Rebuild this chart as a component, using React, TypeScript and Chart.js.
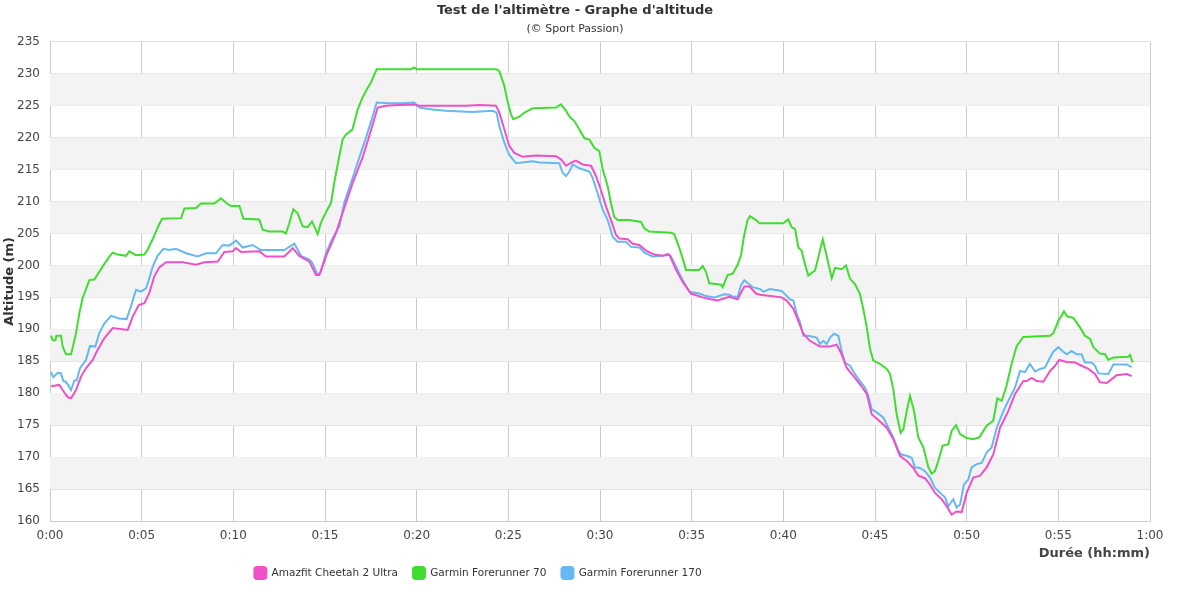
import { useEffect, useRef } from 'react'
import { Chart, registerables } from 'chart.js'
import type { Plugin } from 'chart.js'

Chart.register(...registerables)

// [minutes, altitude in m]
const amazfitPoints: [number, number][] = [
  [0.05, 181.1], [0.51, 181.3], [0.69, 180.5], [0.96, 179.4], [1.15, 179.2], [1.42, 180.5], [1.69, 182.6],
  [1.96, 183.9], [2.33, 185.2], [2.6, 186.8], [2.96, 188.6], [3.42, 190.2], [4.24, 189.9], [4.51, 192],
  [4.84, 193.8], [5.15, 194.1], [5.42, 195.7], [5.69, 198.3], [5.96, 199.7], [6.33, 200.5], [7.24, 200.5],
  [7.96, 200.1], [8.42, 200.5], [9.15, 200.6], [9.51, 202.1], [9.96, 202.2], [10.15, 202.7], [10.42, 202.1],
  [11.42, 202.2], [11.78, 201.4], [12.78, 201.4], [13.24, 202.7], [13.6, 201.5], [14.15, 200.6], [14.51, 198.5],
  [14.69, 198.5], [15.05, 201.4], [15.6, 205.1], [15.96, 208.2], [16.51, 212.9], [17.05, 216.9], [17.42, 220.3],
  [17.87, 224.7], [18.33, 225], [19.05, 225.1], [19.87, 225.2], [20.15, 225], [22.69, 225], [23.42, 225.1],
  [24.33, 225], [24.51, 223.9], [24.78, 221.3], [25.05, 218.7], [25.33, 217.6], [25.78, 217], [26.51, 217.2],
  [27.6, 217.1], [27.87, 216.6], [28.15, 215.6], [28.42, 216.1], [28.69, 216.4], [29.05, 215.8], [29.51, 215.6],
  [29.78, 214], [30.05, 211.8], [30.33, 209.2], [30.6, 207.1], [30.87, 204.8], [31.05, 204.2], [31.51, 204.1],
  [31.78, 203.4], [32.15, 203.2], [32.51, 202.3], [32.96, 201.7], [33.42, 201.5], [33.78, 201.7], [34.15, 199.3],
  [34.51, 197.4], [34.96, 195.6], [35.6, 195], [36.05, 194.7], [36.42, 194.5], [37.05, 195.1], [37.51, 194.7],
  [37.87, 196.7], [38.15, 196.7], [38.51, 195.6], [38.73, 195.4], [39.91, 195], [40.18, 194.5], [40.55, 193.2],
  [40.82, 191.3], [41.09, 189.3], [41.45, 188.2], [42, 187.3], [42.55, 187.3], [42.91, 187.6], [43.18, 186.1],
  [43.45, 184], [43.82, 182.7], [44.18, 181.4], [44.55, 179.9], [44.82, 176.7], [45.18, 175.8], [45.64, 174.6],
  [46, 172.8], [46.36, 170.2], [46.73, 169.4], [47.09, 168.3], [47.36, 167.1], [47.73, 166.7], [48, 165.7],
  [48.27, 164.4], [48.64, 163.4], [48.91, 162.3], [49.18, 161], [49.45, 161.5], [49.73, 161.4], [50, 164.4],
  [50.36, 166.8], [50.73, 167.1], [51.09, 168.4], [51.45, 170.4], [51.82, 174.6], [52.27, 177.2], [52.64, 179.9],
  [53.09, 181.9], [53.27, 181.9], [53.55, 182.4], [53.82, 181.9], [54.18, 181.8], [54.55, 183.5], [54.82, 184.3],
  [55.05, 185.2], [55.45, 184.9], [55.91, 184.8], [56.27, 184.3], [56.64, 183.8], [57, 183], [57.27, 181.7],
  [57.64, 181.6], [57.91, 182.2], [58.18, 182.8], [58.73, 183], [59, 182.7],
]

const fr70Points: [number, number][] = [
  [0.05, 189], [0.15, 188.3], [0.3, 188.3], [0.35, 189], [0.6, 189], [0.69, 187.3], [0.87, 186.1], [1.15, 186.1],
  [1.42, 189.4], [1.6, 192.5], [1.78, 194.9], [2.15, 197.7], [2.42, 197.8], [2.69, 199], [2.96, 200.2],
  [3.24, 201.4], [3.42, 202], [3.7, 201.7], [4.15, 201.5], [4.33, 202.2], [4.69, 201.6], [5.15, 201.7],
  [5.33, 202.5], [5.6, 204.1], [5.87, 205.9], [6.11, 207.3], [7.15, 207.4], [7.33, 208.9], [7.96, 209],
  [8.24, 209.7], [8.96, 209.7], [9.33, 210.5], [9.6, 209.8], [9.87, 209.3], [10.33, 209.3], [10.55, 207.3],
  [11.42, 207.2], [11.6, 205.6], [11.96, 205.3], [12.69, 205.3], [12.87, 205], [13.05, 206.6], [13.27, 208.8],
  [13.5, 208.2], [13.78, 206.1], [14.05, 206], [14.29, 206.9], [14.6, 204.9], [14.78, 206.7], [15.05, 208.3],
  [15.33, 209.8], [15.5, 212.9], [15.78, 217.1], [15.96, 219.7], [16.15, 220.5], [16.5, 221.3], [16.78, 224.4],
  [17.05, 226.3], [17.33, 227.8], [17.5, 228.6], [17.82, 230.7], [19.69, 230.7], [19.87, 231], [20, 230.7],
  [24.35, 230.7], [24.51, 230.4], [24.78, 228.1], [24.96, 225.7], [25.15, 223.6], [25.27, 222.9], [25.6, 223.3],
  [25.87, 223.9], [26.33, 224.6], [27.6, 224.7], [27.87, 225.2], [28.15, 224.2], [28.33, 223.3], [28.6, 222.6],
  [28.87, 221.3], [29.15, 219.9], [29.42, 219.7], [29.69, 218.4], [29.96, 217.9], [30.15, 215], [30.42, 212.4],
  [30.6, 209.7], [30.78, 207.6], [30.96, 207.1], [31.6, 207.1], [32.24, 206.8], [32.42, 205.8], [32.69, 205.3],
  [33.87, 205.1], [34.05, 204.9], [34.33, 202.7], [34.51, 201.1], [34.69, 199.3], [35.42, 199.3], [35.6, 199.9],
  [35.78, 199], [35.96, 197.2], [36.6, 197], [36.69, 196.6], [36.96, 198.5], [37.24, 198.7], [37.51, 200.1],
  [37.69, 201.6], [37.87, 204.8], [38.05, 207.1], [38.18, 207.7], [38.51, 207.1], [38.69, 206.6], [40, 206.6],
  [40.27, 207.2], [40.45, 206], [40.64, 205.7], [40.82, 202.8], [41, 202.3], [41.18, 200.2], [41.36, 198.4],
  [41.73, 199.2], [41.91, 201.3], [42.15, 204.1], [42.36, 201.5], [42.64, 198], [42.82, 199.6], [43.18, 199.4],
  [43.42, 200], [43.64, 197.9], [43.91, 197.1], [44.18, 195.5], [44.36, 193.2], [44.55, 190.3], [44.73, 186.9],
  [44.91, 185.1], [45.27, 184.6], [45.64, 183.8], [45.82, 183], [46, 180.6], [46.18, 176.7], [46.4, 173.8],
  [46.55, 174.4], [46.73, 177.2], [46.91, 179.6], [47.13, 177.2], [47.36, 173.1], [47.64, 171.5], [47.91, 168.4],
  [48.09, 167.4], [48.27, 167.8], [48.45, 169.4], [48.69, 171.8], [49, 172], [49.18, 174.1], [49.42, 175],
  [49.64, 173.6], [50, 173], [50.36, 172.8], [50.69, 173.1], [51.09, 174.9], [51.45, 175.7], [51.67, 179.2],
  [51.91, 178.8], [52.18, 181.2], [52.45, 184.6], [52.73, 187.4], [53.09, 188.8], [54.55, 189], [54.73, 189.4],
  [55, 191.3], [55.31, 192.8], [55.49, 192], [55.82, 191.8], [56.18, 190.3], [56.45, 189], [56.73, 188.5],
  [56.91, 187.2], [57.27, 186.2], [57.55, 186.1], [57.73, 185.2], [58, 185.6], [58.82, 185.7], [58.91, 186],
  [59.05, 184.8],
]

const fr170Points: [number, number][] = [
  [0.05, 183.35], [0.18, 182.5], [0.42, 183.2], [0.6, 183.1], [0.73, 181.9], [0.87, 181.8], [1.15, 180.5],
  [1.33, 182], [1.45, 182], [1.64, 183.9], [1.96, 185.2], [2.18, 187.4], [2.47, 187.3], [2.69, 189.4],
  [2.96, 190.9], [3.33, 192.1], [3.78, 191.7], [4.18, 191.6], [4.42, 193.6], [4.69, 196.2], [4.96, 195.9],
  [5.24, 196.4], [5.42, 198], [5.6, 199.8], [5.87, 201.5], [6.18, 202.6], [6.51, 202.4], [6.87, 202.6],
  [7.42, 201.9], [8.05, 201.4], [8.51, 201.9], [9.05, 201.9], [9.42, 203.2], [9.78, 203.1], [10.15, 203.9],
  [10.51, 202.8], [11.05, 203.2], [11.51, 202.4], [12.78, 202.4], [13.33, 203.4], [13.69, 201.5], [14.15, 200.9],
  [14.29, 200.5], [14.6, 198.5], [14.78, 199], [15.05, 201.9], [15.42, 204.3], [15.78, 206.1], [16.05, 209.8],
  [16.51, 213.7], [16.87, 216.9], [17.24, 220], [17.6, 223.4], [17.82, 225.5], [18.51, 225.4], [19.24, 225.4],
  [19.87, 225.5], [20.15, 224.7], [20.87, 224.4], [21.6, 224.2], [23.05, 224], [24.15, 224.2], [24.36, 223.9],
  [24.51, 221.8], [24.78, 219.2], [25.05, 217.3], [25.42, 216], [26.33, 216.3], [26.69, 216.1], [27.78, 216],
  [27.96, 214.5], [28.15, 214], [28.33, 214.7], [28.51, 215.8], [28.87, 215.2], [29.42, 214.7], [29.6, 213.7],
  [29.87, 211.3], [30.15, 208.7], [30.42, 207.1], [30.69, 204.5], [30.96, 203.7], [31.42, 203.7], [31.69, 202.9],
  [32.15, 202.8], [32.42, 202], [32.87, 201.4], [33.42, 201.5], [33.69, 201.8], [33.87, 201.4], [34.15, 199.8],
  [34.51, 197.7], [34.87, 195.9], [35.42, 195.6], [35.78, 195.2], [36.24, 195], [36.78, 195.5], [37.05, 195.4],
  [37.24, 195.1], [37.51, 195.1], [37.69, 196.9], [37.87, 197.7], [38.33, 196.6], [38.73, 196.3], [38.91, 195.9],
  [39.27, 196.3], [39.91, 196], [40.09, 195.5], [40.36, 194.7], [40.55, 194.5], [40.73, 192.4], [40.91, 191.1],
  [41.09, 189], [41.36, 189], [41.82, 188.7], [42, 187.7], [42.18, 188.2], [42.36, 187.7], [42.55, 188.7],
  [42.76, 189.3], [43, 189], [43.18, 186.6], [43.36, 184.8], [43.64, 184.3], [43.91, 183], [44.18, 181.9],
  [44.45, 180.9], [44.64, 179.6], [44.82, 177.5], [45.09, 177], [45.45, 176.2], [45.73, 174.6], [46, 173.1],
  [46.27, 171], [46.45, 170.4], [46.73, 170.2], [47, 169.9], [47.18, 168.4], [47.45, 168.3], [47.73, 167.8],
  [48, 166.8], [48.27, 165.2], [48.55, 164.4], [48.82, 163.7], [49, 162.3], [49.27, 163.4], [49.45, 162.1],
  [49.64, 162.6], [49.85, 165.7], [50.09, 166.5], [50.27, 168.4], [50.55, 168.9], [50.82, 169.1], [51.09, 170.7],
  [51.36, 171.5], [51.64, 174.6], [52, 177.2], [52.27, 178.8], [52.64, 180.9], [52.91, 183.5], [53.18, 183.3],
  [53.45, 184.6], [53.73, 183.4], [54, 183.8], [54.27, 184], [54.55, 185.6], [54.73, 186.5], [55, 187.2],
  [55.27, 186.5], [55.45, 186.1], [55.73, 186.6], [56, 186.1], [56.27, 186.1], [56.45, 184.8], [56.82, 184.8],
  [57, 184.3], [57.18, 183.1], [57.73, 183], [58, 184.5], [58.73, 184.5], [59, 184.1],
]

const seriesNames = ['Amazfit Cheetah 2 Ultra', 'Garmin Forerunner 70', 'Garmin Forerunner 170']
const seriesColors = ['#f050c8', '#40dd30', '#66b8f0']

const FONT = 'DejaVu Sans, sans-serif'

// grey band behind every other 5 m step
const bandsPlugin: Plugin<'line'> = {
  id: 'bands',
  beforeDatasetsDraw(chart) {
    const { ctx, chartArea, scales } = chart
    const y = scales.y
    ctx.save()
    ctx.fillStyle = '#f3f3f3'
    for (const t of y.ticks) {
      if (t.value % 10 !== 5 || t.value >= 235) continue
      const top = y.getPixelForValue(t.value + 5)
      const bottom = y.getPixelForValue(t.value)
      ctx.fillRect(chartArea.left, top, chartArea.right - chartArea.left, bottom - top)
    }
    ctx.restore()
  },
}

// legend sits left of centre and a bit higher in the original
const legendShift: Plugin<'line'> = {
  id: 'legendShift',
  afterLayout(chart) {
    const lg = chart.legend
    if (!lg) return
    lg.left -= 97
    lg.right -= 97
    lg.top -= 11
    lg.bottom -= 11
  },
}

const fmtMin = (v: number) => `${Math.floor(v / 60)}:${String(v % 60).padStart(2, '0')}`

export default function App() {
  const canvasRef = useRef<HTMLCanvasElement>(null)
  const chartRef = useRef<Chart | null>(null)

  useEffect(() => {
    document.body.style.margin = '0'
    if (!canvasRef.current) return
    if (chartRef.current) chartRef.current.destroy()

    const all = [amazfitPoints, fr70Points, fr170Points]

    chartRef.current = new Chart(canvasRef.current, {
      type: 'line',
      data: {
        datasets: all.map((pts, i) => ({
          label: seriesNames[i],
          data: pts.map(([x, y]) => ({ x, y })),
          borderColor: seriesColors[i],
          backgroundColor: seriesColors[i],
          borderWidth: 2,
          pointRadius: 0,
          tension: 0,
        })),
      },
      plugins: [bandsPlugin, legendShift],
      options: {
        animation: false,
        responsive: true,
        maintainAspectRatio: false,
        layout: { padding: { left: 0, right: 50, top: 0, bottom: 0 } },
        font: { family: FONT },
        scales: {
          x: {
            type: 'linear',
            min: 0,
            max: 60,
            ticks: {
              stepSize: 5,
              callback: v => fmtMin(Number(v)),
              color: '#444',
              font: { family: FONT, size: 12 },
              padding: 8,
              maxRotation: 0,
            },
            grid: { color: '#cccccc', drawTicks: false },
            border: { color: '#cccccc' },
            title: {
              display: true,
              text: 'Durée (hh:mm)',
              align: 'end',
              color: '#444',
              font: { family: FONT, size: 13, weight: 'bold' },
              padding: { top: -6, bottom: 2 },
            },
          },
          y: {
            min: 160,
            max: 235,
            ticks: {
              stepSize: 5,
              color: '#444',
              font: { family: FONT, size: 12 },
              padding: 10,
            },
            grid: { color: '#e0e0e0', drawTicks: false },
            border: { color: '#cccccc' },
            title: {
              display: true,
              text: 'Altitude (m)',
              color: '#333',
              font: { family: FONT, size: 13, weight: 'bold' },
              padding: { top: 2, bottom: 0 },
            },
            afterFit: scale => {
              scale.width = 50
            },
          },
        },
        plugins: {
          title: {
            display: true,
            text: "Test de l'altimètre - Graphe d'altitude",
            color: '#333',
            font: { family: FONT, size: 13, weight: 'bold' },
            padding: { top: 3, bottom: 3 },
          },
          subtitle: {
            display: true,
            text: '(© Sport Passion)',
            color: '#333',
            font: { family: FONT, size: 11 },
            padding: { top: 1, bottom: 6 },
          },
          legend: {
            position: 'bottom',
            labels: {
              boxWidth: 12,
              boxHeight: 12,
              useBorderRadius: true,
              borderRadius: 3,
              padding: 15,
              color: '#333',
              font: { family: FONT, size: 10.5 },
            },
          },
          tooltip: { enabled: false },
        },
      },
    })

    return () => {
      if (chartRef.current) {
        chartRef.current.destroy()
        chartRef.current = null
      }
    }
  }, [])

  return (
    <div style={{ width: 1200, height: 600, position: 'relative', background: '#fff' }}>
      <canvas ref={canvasRef} />
    </div>
  )
}
